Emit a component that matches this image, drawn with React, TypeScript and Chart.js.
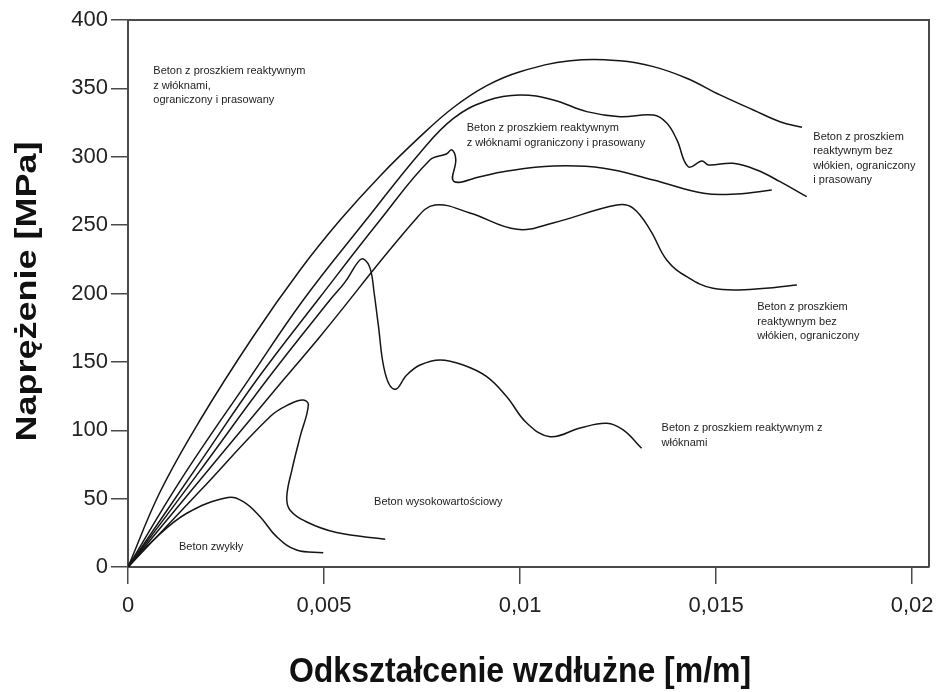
import React, { useEffect, useRef } from "react";
import { Chart, registerables } from "chart.js";

Chart.register(...registerables);

// ---------- axis ticks ----------
const X_TICKS = [0, 0.005, 0.01, 0.015, 0.02];
const X_MAX = 0.02043;
const Y_MIN = 0;
const Y_MAX = 400;
const Y_STEP = 50;
const X_TITLE = "Odkształcenie wzdłużne [m/m]";
const Y_TITLE = "Naprężenie [MPa]";

// ---------- curves: strain [m/m] and stress [MPa] ----------
const strainC1 = [0, 0.00082, 0.00184, 0.00319, 0.00439, 0.00541, 0.00643, 0.00745, 0.0083, 0.00915, 0.01, 0.01128, 0.01255, 0.0134, 0.01425, 0.0151, 0.01595, 0.01663, 0.01719];
const stressC1 = [0, 55, 107.5, 168.4, 217.2, 253.7, 286, 314.7, 336, 352, 362.2, 370.2, 370.2, 365.9, 357.4, 345.2, 334.2, 325.6, 321.5];

const strainC2 = [0, 0.00133, 0.00307, 0.00447, 0.00607, 0.00745, 0.0083, 0.00915, 0.01, 0.01085, 0.0117, 0.01255, 0.0134, 0.01374, 0.014, 0.01429, 0.01464, 0.0148, 0.01543, 0.01604, 0.01663, 0.01731];
const stressC2 = [0, 63, 136.7, 195.2, 253.7, 303, 328, 341, 345.2, 341.5, 333, 329.3, 330.5, 324.7, 312.3, 292.7, 296.9, 294, 295.2, 290.3, 281.8, 270.8];

const strainC3 = [0, 0.0018, 0.00328, 0.0049, 0.00643, 0.0077, 0.00812, 0.00826, 0.00836, 0.00831, 0.00898, 0.00957, 0.01085, 0.01213, 0.0134, 0.01468, 0.01553, 0.01642];
const stressC3 = [0, 75, 136.7, 197.4, 253.7, 297.6, 302, 305, 298, 282, 285.4, 289.1, 293.2, 291.6, 283, 273.3, 272.8, 275.7];

const strainC4 = [0, 0.00245, 0.00396, 0.0049, 0.00732, 0.00783, 0.00872, 0.00992, 0.01084, 0.01247, 0.01288, 0.01332, 0.01374, 0.01425, 0.01492, 0.01594, 0.01706];
const stressC4 = [0, 84.8, 136.7, 168.6, 253.7, 264.7, 258.9, 246.9, 251.6, 264.7, 262.5, 246.4, 224.5, 212.3, 203.8, 203.1, 206.2];

const strainC5 = [0, 0.0018, 0.00354, 0.00515, 0.00554, 0.00588, 0.00602, 0.00618, 0.00628, 0.00638, 0.00656, 0.00681, 0.00711, 0.00745, 0.00796, 0.00855, 0.00915, 0.00966, 0.01017, 0.01077, 0.01153, 0.01221, 0.01263, 0.0131];
const stressC5 = [0, 69, 136.7, 195.2, 208.5, 223.5, 225, 218, 200, 178, 141.6, 129.9, 140.4, 147.7, 151.4, 147.7, 139.2, 124.5, 105.3, 95.3, 101.6, 105.1, 100.2, 86.8];

const strainC6 = [0, 0.00184, 0.00362, 0.00413, 0.00447, 0.0046, 0.00439, 0.00418, 0.00405, 0.00413, 0.00456, 0.00532, 0.00656];
const stressC6 = [0, 55.7, 109.9, 119.2, 122.1, 118.5, 95.3, 70.9, 51.4, 41.7, 32.9, 25.2, 20.3];

const strainC7 = [0, 0.00065, 0.0015, 0.00255, 0.00294, 0.00337, 0.00379, 0.0043, 0.00498];
const stressC7 = [0, 19.7, 39.3, 50.8, 47.8, 36.8, 22.2, 12.4, 10.5];

// ---------- curve annotations (anchor in data units) ----------
const noteText1 = ["Beton z proszkiem reaktywnym", "z włóknami,", "ograniczony i prasowany"];
const noteText2 = ["Beton z proszkiem reaktywnym", "z włóknami ograniczony i prasowany"];
const noteText3 = ["Beton z proszkiem", "reaktywnym bez", "włókien, ograniczony", "i prasowany"];
const noteText4 = ["Beton z proszkiem", "reaktywnym bez", "włókien, ograniczony"];
const noteText5 = ["Beton z proszkiem reaktywnym z", "włóknami"];
const noteText6 = ["Beton wysokowartościowy"];
const noteText7 = ["Beton zwykły"];
const noteX = [0.000645, 0.00864, 0.01748, 0.01605, 0.01361, 0.006276, 0.001301];
const noteY = [362.7, 320.8, 314.7, 189.9, 101.4, 47.8, 14.4];
const noteTexts = [noteText1, noteText2, noteText3, noteText4, noteText5, noteText6, noteText7];

const curves = [
  [strainC1, stressC1],
  [strainC2, stressC2],
  [strainC3, stressC3],
  [strainC4, stressC4],
  [strainC5, stressC5],
  [strainC6, stressC6],
  [strainC7, stressC7],
];

const FONT = '"Liberation Sans", Arial, Helvetica, sans-serif';
const AXIS_COLOR = "#4a4a4a";

const decorPlugin = {
  id: "decor",
  afterDraw(chart: any) {
    const { ctx, chartArea, scales } = chart;
    const { left, top, right, bottom } = chartArea;
    const xs = scales.x;
    const ys = scales.y;
    ctx.save();
    ctx.strokeStyle = AXIS_COLOR;
    ctx.lineWidth = 2;
    ctx.beginPath();
    ctx.moveTo(left, top);
    ctx.lineTo(right, top);
    ctx.lineTo(right, bottom);
    ctx.stroke();

    ctx.fillStyle = "#222";
    ctx.font = `11px ${FONT}`;
    ctx.textBaseline = "middle";
    ctx.textAlign = "left";
    noteTexts.forEach((lines, i) => {
      const px = xs.getPixelForValue(noteX[i]);
      const py = ys.getPixelForValue(noteY[i]);
      lines.forEach((line, j) => ctx.fillText(line, px, py + j * 14.5));
    });

    // x axis title, centred on the labelled range
    ctx.fillStyle = "#111";
    ctx.font = `bold 32px ${FONT}`;
    ctx.textAlign = "center";
    const cx = (xs.getPixelForValue(X_TICKS[0]) + xs.getPixelForValue(X_TICKS[X_TICKS.length - 1])) / 2;
    ctx.save();
    ctx.translate(cx, bottom + 105);
    ctx.scale(1, 1.08);
    ctx.fillText(X_TITLE, 0, 0);
    ctx.restore();

    // y axis title
    ctx.save();
    ctx.font = `bold 30px ${FONT}`;
    ctx.translate(left - 100, (top + bottom) / 2 - 2);
    ctx.scale(1, 1.2);
    ctx.rotate(-Math.PI / 2);
    ctx.fillText(Y_TITLE, 0, 0);
    ctx.restore();
    ctx.restore();
  },
};

export default function App() {
  const ref = useRef<HTMLCanvasElement | null>(null);

  useEffect(() => {
    if (!ref.current) return;
    const datasets = curves.map(([xs, ys]) => ({
      data: xs.map((x, i) => ({ x, y: ys[i] })),
      showLine: true,
      borderColor: "#151515",
      borderWidth: 1.5,
      pointRadius: 0,
      pointHoverRadius: 0,
      tension: 0.4,
      fill: false,
    }));

    const chart = new Chart(ref.current, {
      type: "scatter",
      data: { datasets },
      plugins: [decorPlugin],
      options: {
        responsive: false,
        animation: false,
        devicePixelRatio: 1,
        layout: { padding: { top: 20, right: 8, left: 0, bottom: 0 } },
        plugins: { legend: { display: false }, tooltip: { enabled: false } },
        scales: {
          x: {
            type: "linear",
            min: 0,
            max: X_MAX,
            afterBuildTicks: (s: any) => {
              s.ticks = X_TICKS.map((v) => ({ value: v }));
            },
            afterFit: (s: any) => {
              s.height = 125;
              s.paddingLeft = 0;
              s.paddingRight = 0;
            },
            ticks: {
              autoSkip: false,
              maxRotation: 0,
              padding: 9,
              color: "#222",
              font: { family: FONT, size: 22 },
              callback: (v: any) => String(v).replace(".", ","),
            },
            grid: { drawOnChartArea: false, drawTicks: true, tickLength: 17, color: AXIS_COLOR, lineWidth: 1.5 },
            border: { display: true, color: AXIS_COLOR, width: 2 },
          },
          y: {
            type: "linear",
            min: Y_MIN,
            max: Y_MAX,
            afterFit: (s: any) => {
              s.width = 128;
              s.paddingTop = 0;
              s.paddingBottom = 0;
            },
            ticks: {
              stepSize: Y_STEP,
              padding: 3,
              color: "#222",
              font: { family: FONT, size: 22 },
            },
            title: { display: false },
            grid: { drawOnChartArea: false, drawTicks: true, tickLength: 17, color: AXIS_COLOR, lineWidth: 1.5 },
            border: { display: true, color: AXIS_COLOR, width: 2 },
          },
        },
      },
    });
    return () => chart.destroy();
  }, []);

  return (
    <div style={{ position: "absolute", left: 0, top: 0, width: 937, height: 692, background: "#fff" }}>
      <canvas ref={ref} width={937} height={692} style={{ width: 937, height: 692, display: "block" }} />
    </div>
  );
}
